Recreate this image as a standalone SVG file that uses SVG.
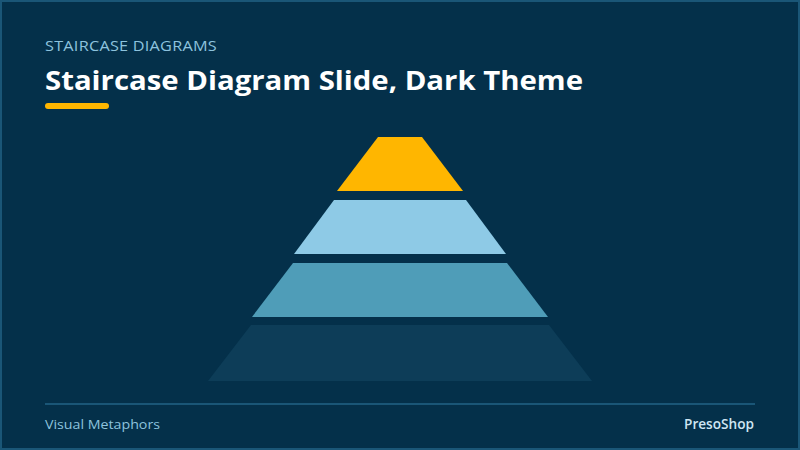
<svg xmlns="http://www.w3.org/2000/svg" width="800" height="450" viewBox="0 0 800 450">
  <style>
    .kicker { font-family: "Open Sans", "Liberation Sans", sans-serif; font-size: 14px; fill: #8dc3de; letter-spacing: 0.2px; }
    .title { font-family: "Open Sans", "Liberation Sans", sans-serif; font-size: 27px; font-weight: 700; fill: #ffffff; }
    .foot { font-family: "Open Sans", "Liberation Sans", sans-serif; font-size: 13px; fill: #8dc3de; }
    .brand { font-family: "Open Sans", "Liberation Sans", sans-serif; font-size: 13.5px; font-weight: 600; fill: #cfe6f3; }
  </style>
  <rect x="1" y="1" width="798" height="448" fill="#04304a" stroke="#1a5677" stroke-width="2"/>
  <g id="header">
    <text class="kicker" x="45" y="51" textLength="172" lengthAdjust="spacingAndGlyphs">STAIRCASE DIAGRAMS</text>
    <text class="title" x="45" y="90" textLength="538" lengthAdjust="spacingAndGlyphs">Staircase Diagram Slide, Dark Theme</text>
    <rect x="45" y="103" width="64" height="6" rx="3" fill="#ffb600"/>
  </g>
  <g id="step-4">
    <polygon points="251,325 549,325 592,381 208,381" fill="#0d3d58"/>
  </g>
  <g id="step-3">
    <polygon points="293,263 507,263 548,317 252,317" fill="#4f9db8"/>
  </g>
  <g id="step-2">
    <polygon points="334,200 466,200 506,254 294,254" fill="#8ecae6"/>
  </g>
  <g id="step-1">
    <polygon points="378,137 422,137 463,191 337,191" fill="#ffb600"/>
  </g>
  <g id="footer">
    <line x1="45" y1="404" x2="755" y2="404" stroke="#1a5677" stroke-width="2"/>
    <text class="foot" x="45" y="429" textLength="115" lengthAdjust="spacingAndGlyphs">Visual Metaphors</text>
    <text class="brand" x="684" y="429" textLength="70" lengthAdjust="spacingAndGlyphs">PresoShop</text>
  </g>
</svg>
